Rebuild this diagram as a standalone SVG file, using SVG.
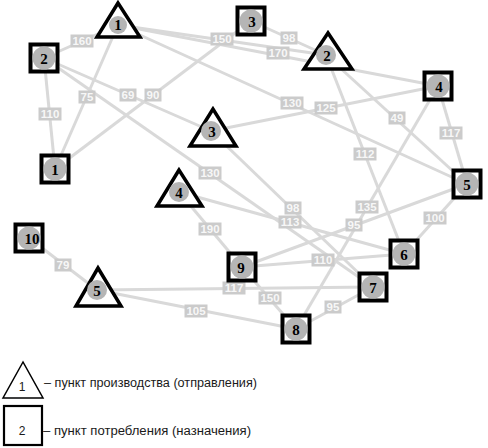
<svg xmlns="http://www.w3.org/2000/svg" width="488" height="448" viewBox="0 0 488 448">
<style>
.e{stroke:#d9d9d9;stroke-width:3;fill:none}
.lb rect{fill:#cbcbcb}
.lb text{font-family:"Liberation Sans",Arial,sans-serif;font-size:11.5px;font-weight:bold;fill:#f7f7f7;text-anchor:middle}
.sq{fill:#fff;stroke:#000;stroke-width:4}
.tr{fill:#fff;stroke:#000;stroke-width:3.5;stroke-linejoin:miter}
.c{fill:#b5b5b5}
.n{font-family:"Liberation Serif","Times New Roman",serif;font-size:15px;font-weight:bold;fill:#000;text-anchor:middle}
.lg{font-family:"Liberation Sans",Arial,sans-serif;font-size:12px;fill:#1a1a1a}
</style>
<rect width="488" height="448" fill="#fff"/>
<g id="connectors">
<line class="e" x1="118" y1="25" x2="44" y2="58"/>
<line class="e" x1="44" y1="58" x2="55" y2="169"/>
<line class="e" x1="118" y1="25" x2="55" y2="169"/>
<line class="e" x1="44" y1="58" x2="211" y2="131"/>
<line class="e" x1="55" y1="169" x2="251" y2="21"/>
<line class="e" x1="118" y1="25" x2="326" y2="55"/>
<line class="e" x1="118" y1="25" x2="438" y2="86"/>
<line class="e" x1="251" y1="21" x2="326" y2="55"/>
<line class="e" x1="118" y1="25" x2="467" y2="184"/>
<line class="e" x1="211" y1="131" x2="438" y2="86"/>
<line class="e" x1="326" y1="55" x2="467" y2="184"/>
<line class="e" x1="438" y1="86" x2="467" y2="184"/>
<line class="e" x1="326" y1="55" x2="404" y2="254"/>
<line class="e" x1="438" y1="86" x2="296" y2="329"/>
<line class="e" x1="467" y1="184" x2="242" y2="267"/>
<line class="e" x1="467" y1="184" x2="404" y2="254"/>
<line class="e" x1="242" y1="267" x2="404" y2="254"/>
<line class="e" x1="179" y1="192" x2="242" y2="267"/>
<line class="e" x1="97" y1="290" x2="373" y2="287"/>
<line class="e" x1="97" y1="290" x2="296" y2="329"/>
<line class="e" x1="242" y1="267" x2="296" y2="329"/>
<line class="e" x1="373" y1="287" x2="296" y2="329"/>
<line class="e" x1="29" y1="238" x2="97" y2="290"/>
<line class="e" x1="44" y1="58" x2="373" y2="287"/>
<line class="e" x1="211" y1="131" x2="373" y2="287"/>
<line class="e" x1="179" y1="192" x2="404" y2="254"/>
</g>
<g id="labels" class="lb">
<rect x="70.5" y="34.5" width="23" height="13"/><text x="82" y="45">160</text>
<rect x="38.5" y="107.5" width="23" height="13"/><text x="50" y="118">110</text>
<rect x="78.5" y="90.5" width="17" height="13"/><text x="87" y="101">75</text>
<rect x="119.5" y="88.5" width="17" height="13"/><text x="128" y="99">69</text>
<rect x="144.5" y="88.5" width="17" height="13"/><text x="153" y="99">90</text>
<rect x="210.5" y="32.5" width="23" height="13"/><text x="222" y="43">150</text>
<rect x="266.5" y="46.5" width="23" height="13"/><text x="278" y="57">170</text>
<rect x="280.5" y="31.5" width="17" height="13"/><text x="289" y="42">98</text>
<rect x="280.5" y="96.5" width="23" height="13"/><text x="292" y="107">130</text>
<rect x="314.5" y="101.5" width="23" height="13"/><text x="326" y="112">125</text>
<rect x="388.5" y="111.5" width="17" height="13"/><text x="397" y="122">49</text>
<rect x="439.5" y="126.5" width="23" height="13"/><text x="451" y="137">117</text>
<rect x="353.5" y="147.5" width="23" height="13"/><text x="365" y="158">112</text>
<rect x="355.5" y="200.5" width="23" height="13"/><text x="367" y="211">135</text>
<rect x="345.5" y="218.5" width="17" height="13"/><text x="354" y="229">95</text>
<rect x="423.5" y="211.5" width="23" height="13"/><text x="435" y="222">100</text>
<rect x="311.5" y="253.5" width="23" height="13"/><text x="323" y="264">110</text>
<rect x="198.5" y="222.5" width="23" height="13"/><text x="210" y="233">190</text>
<rect x="222.5" y="281.5" width="23" height="13"/><text x="234" y="292">117</text>
<rect x="184.5" y="304.5" width="23" height="13"/><text x="196" y="315">105</text>
<rect x="258.5" y="291.5" width="23" height="13"/><text x="270" y="302">150</text>
<rect x="324.5" y="300.5" width="17" height="13"/><text x="333" y="311">95</text>
<rect x="54.5" y="258.5" width="17" height="13"/><text x="63" y="269">79</text>
<rect x="198.5" y="166.5" width="23" height="13"/><text x="210" y="177">130</text>
<rect x="284.5" y="201.5" width="17" height="13"/><text x="293" y="212">98</text>
<rect x="278.5" y="215.5" width="23" height="13"/><text x="290" y="226">113</text>
</g>
<g id="T1"><polygon class="tr" points="118,3 97,37 140,37"/><circle class="c" cx="118" cy="25" r="9"/><text class="n" x="118" y="30">1</text></g>
<g id="T2"><polygon class="tr" points="328,33 304,69 352,69"/><circle class="c" cx="326" cy="55" r="10"/><text class="n" x="327" y="61">2</text></g>
<g id="T3"><polygon class="tr" points="213,109 190,146 236,146"/><circle class="c" cx="211" cy="131" r="10"/><text class="n" x="212" y="137">3</text></g>
<g id="T4"><polygon class="tr" points="179,170 157,206 202,206"/><circle class="c" cx="179" cy="192" r="10"/><text class="n" x="179" y="198">4</text></g>
<g id="T5"><polygon class="tr" points="98,268 76,306 121,306"/><circle class="c" cx="97" cy="290" r="10"/><text class="n" x="97" y="296">5</text></g>
<g id="S1"><rect class="sq" x="41.5" y="155.5" width="27" height="27"/><circle class="c" cx="55" cy="169" r="11.5"/><text class="n" x="55" y="175">1</text></g>
<g id="S2"><rect class="sq" x="30.5" y="44.5" width="27" height="27"/><circle class="c" cx="44" cy="58" r="11.5"/><text class="n" x="44" y="64">2</text></g>
<g id="S3"><rect class="sq" x="237.5" y="7.5" width="27" height="27"/><circle class="c" cx="251" cy="21" r="11.5"/><text class="n" x="252" y="27">3</text></g>
<g id="S4"><rect class="sq" x="424.5" y="72.5" width="27" height="27"/><circle class="c" cx="438" cy="86" r="11.5"/><text class="n" x="439" y="92">4</text></g>
<g id="S5"><rect class="sq" x="453.5" y="170.5" width="27" height="27"/><circle class="c" cx="467" cy="184" r="11.5"/><text class="n" x="467" y="190">5</text></g>
<g id="S6"><rect class="sq" x="390.5" y="240.5" width="27" height="27"/><circle class="c" cx="404" cy="254" r="11.5"/><text class="n" x="404" y="260">6</text></g>
<g id="S7"><rect class="sq" x="359.5" y="273.5" width="27" height="27"/><circle class="c" cx="373" cy="287" r="11.5"/><text class="n" x="373" y="293">7</text></g>
<g id="S8"><rect class="sq" x="282.5" y="315.5" width="27" height="27"/><circle class="c" cx="296" cy="329" r="11.5"/><text class="n" x="296" y="335">8</text></g>
<g id="S9"><rect class="sq" x="228.5" y="253.5" width="27" height="27"/><circle class="c" cx="242" cy="267" r="11.5"/><text class="n" x="241" y="273">9</text></g>
<g id="S10"><rect class="sq" x="15.5" y="224.5" width="27" height="27"/><circle class="c" cx="29" cy="238" r="11.5"/><text class="n" x="32" y="244">10</text></g>
<g id="legend-producer"><polygon points="23,362 3,398 43,398" fill="#fff" stroke="#000" stroke-width="1.5"/><text class="lg" x="22" y="391" text-anchor="middle">1</text><text class="lg" x="44" y="387" textLength="213" lengthAdjust="spacingAndGlyphs">– пункт производства (отправления)</text></g>
<g id="legend-consumer"><rect x="4" y="406" width="38" height="39" fill="#fff" stroke="#000" stroke-width="2.2"/><text class="lg" x="22" y="435" text-anchor="middle">2</text><text class="lg" x="43" y="435" textLength="208" lengthAdjust="spacingAndGlyphs">– пункт потребления (назначения)</text></g>
</svg>
